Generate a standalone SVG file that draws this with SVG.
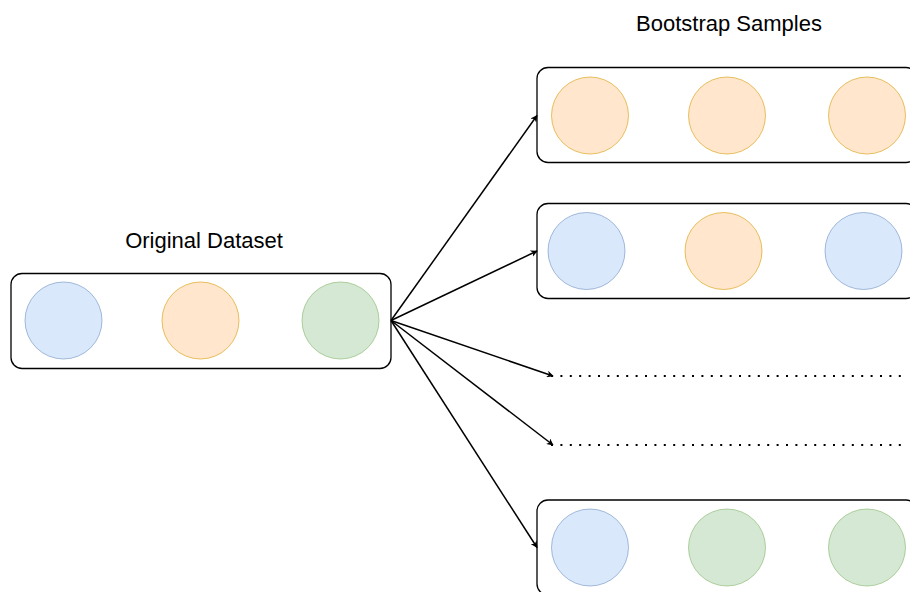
<svg xmlns="http://www.w3.org/2000/svg" width="910" height="592" viewBox="0 0 910 592">
  <style>
    .box { fill: #ffffff; stroke: #000000; stroke-width: 1.3; }
    .blue { fill: #dae8fc; stroke: #6c8ebf; stroke-width: 0.6; }
    .orange { fill: #ffe6cc; stroke: #d79b00; stroke-width: 0.6; }
    .green { fill: #d5e8d4; stroke: #82b366; stroke-width: 0.6; }
    .label { font-family: "Liberation Sans", Arial, Helvetica, sans-serif; font-size: 22px; fill: #000000; text-anchor: middle; }
    .edge { fill: none; stroke: #000000; stroke-width: 1.5; }
    .dots { fill: none; stroke: #000000; stroke-width: 2; stroke-dasharray: 2 7.4; }
  </style>
  <defs>
    <marker id="arrow" viewBox="0 0 10 10" refX="9" refY="5" markerWidth="7" markerHeight="7" markerUnits="userSpaceOnUse" orient="auto">
      <path d="M0,0 L10,5 L0,10 L3,5 Z" fill="#000000"/>
    </marker>
  </defs>
  <rect width="910" height="592" fill="#ffffff"/>

  <text class="label" x="729" y="30.5">Bootstrap Samples</text>
  <text class="label" x="204" y="247.5">Original Dataset</text>

  <g id="original">
    <rect class="box" x="11" y="273.5" width="380" height="95" rx="11"/>
    <circle class="blue" cx="63.5" cy="320.5" r="38.5"/>
    <circle class="orange" cx="200.5" cy="320.5" r="38.5"/>
    <circle class="green" cx="340.5" cy="320.5" r="38.5"/>
  </g>

  <g id="sample1">
    <rect class="box" x="537" y="67.5" width="380" height="95" rx="11"/>
    <circle class="orange" cx="590" cy="115.5" r="38.5"/>
    <circle class="orange" cx="727" cy="115.5" r="38.5"/>
    <circle class="orange" cx="867" cy="115.5" r="38.5"/>
  </g>

  <g id="sample2">
    <rect class="box" x="537" y="203.5" width="380" height="95" rx="11"/>
    <circle class="blue" cx="586.5" cy="251" r="38.5"/>
    <circle class="orange" cx="723.5" cy="251" r="38.5"/>
    <circle class="blue" cx="863.5" cy="251" r="38.5"/>
  </g>

  <g id="sample3">
    <rect class="box" x="537" y="500" width="380" height="95" rx="11"/>
    <circle class="blue" cx="590" cy="547.5" r="38.5"/>
    <circle class="green" cx="727" cy="547.5" r="38.5"/>
    <circle class="green" cx="867" cy="547.5" r="38.5"/>
  </g>

  <g id="ellipsis">
    <line class="dots" x1="551" y1="376" x2="906" y2="376"/>
    <line class="dots" x1="551" y1="445" x2="906" y2="445"/>
  </g>

  <g id="connectors">
    <line class="edge" x1="391" y1="320.5" x2="537" y2="115.5" marker-end="url(#arrow)"/>
    <line class="edge" x1="391" y1="320.5" x2="537" y2="251" marker-end="url(#arrow)"/>
    <line class="edge" x1="391" y1="320.5" x2="553" y2="376" marker-end="url(#arrow)"/>
    <line class="edge" x1="391" y1="320.5" x2="553" y2="445" marker-end="url(#arrow)"/>
    <line class="edge" x1="391" y1="320.5" x2="537" y2="547.5" marker-end="url(#arrow)"/>
  </g>
</svg>
